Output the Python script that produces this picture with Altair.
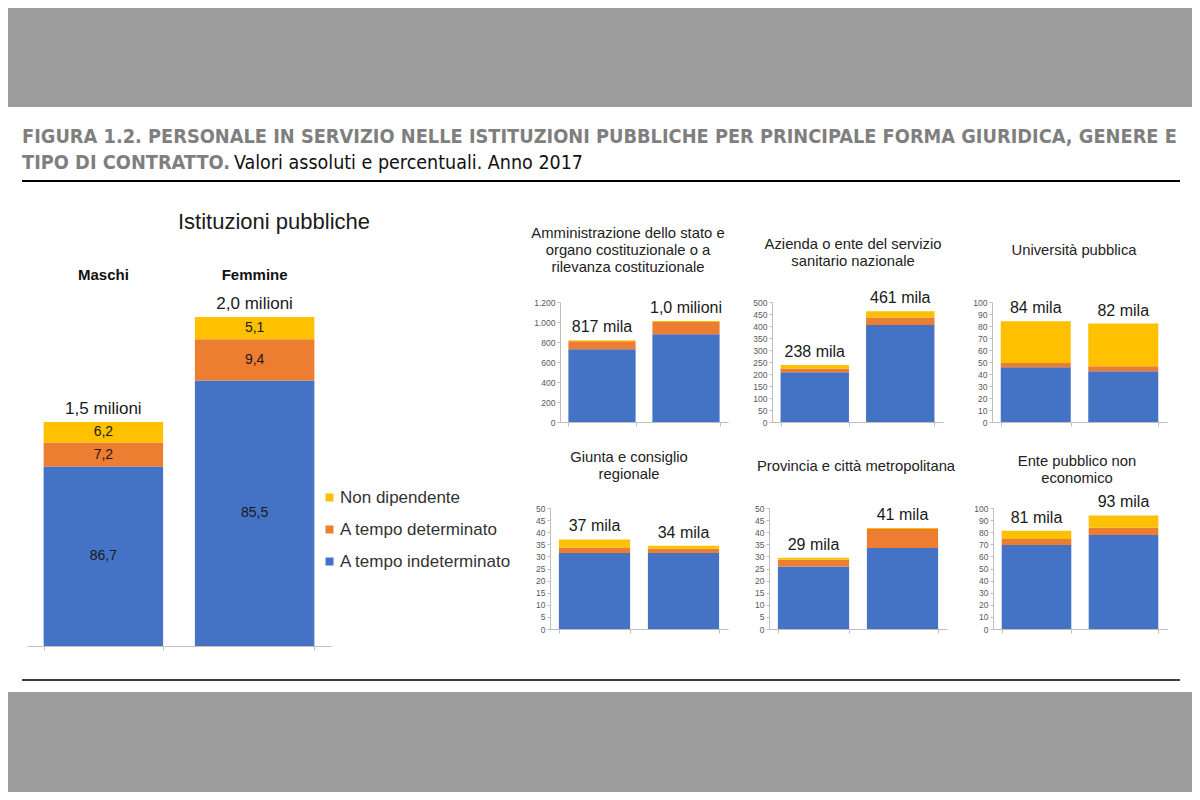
import altair as alt
import pandas as pd

# ---------------- data ----------------
genders = ["Maschi", "Femmine"]
contracts = ["A tempo indeterminato", "A tempo determinato", "Non dipendente"]
legend_order = ["Non dipendente", "A tempo determinato", "A tempo indeterminato"]
legend_colors = ["#FFC000", "#ED7D31", "#4472C4"]

# left panel: Istituzioni pubbliche (percent shares; totals in thousands)
main_pct_maschi = [86.7, 7.2, 6.2]
main_pct_femmine = [85.5, 9.4, 5.1]
main_pct_labels_maschi = ["86,7", "7,2", "6,2"]
main_pct_labels_femmine = ["85,5", "9,4", "5,1"]
main_totals = [1520, 2000]
main_total_labels = ["1,5 milioni", "2,0 milioni"]
main_axis_min = 500
main_axis_max = 2000

# small panels (thousands): [indeterminato, determinato, non dipendente]
panel_titles = [
    ["Amministrazione dello stato e", "organo costituzionale o a", "rilevanza costituzionale"],
    ["Azienda o ente del servizio", "sanitario nazionale"],
    ["Università pubblica"],
    ["Giunta e consiglio", "regionale"],
    ["Provincia e città metropolitana"],
    ["Ente pubblico non", "economico"],
]
panel_maschi = [
    [727, 80, 10],
    [207, 16, 15],
    [45.6, 3.6, 34.8],
    [31.4, 2.3, 3.3],
    [25.8, 2.8, 0.8],
    [69.4, 5.0, 6.9],
]
panel_femmine = [
    [877, 123, 10],
    [404, 31, 26],
    [42.3, 4.1, 35.6],
    [31.4, 1.8, 1.2],
    [33.5, 7.8, 0.4],
    [77.7, 6.0, 10.2],
]
panel_total_labels = [
    ["817 mila", "1,0 milioni"],
    ["238 mila", "461 mila"],
    ["84 mila", "82 mila"],
    ["37 mila", "34 mila"],
    ["29 mila", "41 mila"],
    ["81 mila", "93 mila"],
]
panel_ymax = [1200, 500, 100, 50, 50, 100]
panel_ticks = [
    [0, 200, 400, 600, 800, 1000, 1200],
    [0, 50, 100, 150, 200, 250, 300, 350, 400, 450, 500],
    [0, 10, 20, 30, 40, 50, 60, 70, 80, 90, 100],
    [0, 5, 10, 15, 20, 25, 30, 35, 40, 45, 50],
    [0, 5, 10, 15, 20, 25, 30, 35, 40, 45, 50],
    [0, 10, 20, 30, 40, 50, 60, 70, 80, 90, 100],
]

fig_title_line1 = "FIGURA 1.2. PERSONALE IN SERVIZIO NELLE ISTITUZIONI PUBBLICHE PER PRINCIPALE FORMA GIURIDICA, GENERE E"
fig_title_line2_bold = "TIPO DI CONTRATTO."
fig_title_line2_reg = "Valori assoluti e percentuali. Anno 2017"
main_title = "Istituzioni pubbliche"

# ---------------- layout (pixels inside the chart) ----------------
W, H = 1184, 784
FONT = "Liberation Sans"
NARROW = "Liberation Sans Narrow, DejaVu Sans Condensed, sans-serif"
GRAY = "#9d9d9d"
AXC = "#bfbfbf"
# panel plot boxes: (x0, x1, y_bottom, y_top)
panel_boxes = [
    (552, 720, 414, 294),
    (764, 935, 414, 294),
    (984, 1159, 414, 294),
    (542, 720, 621, 500),
    (761, 939, 621, 500),
    (985, 1159, 621, 500),
]
# centre of first title line
panel_title_pos = [(620, 226), (845, 237), (1066, 243), (621, 450), (848, 459), (1069, 454)]
left_box = (19, 323, 638, 309)

color_scale = alt.Scale(domain=legend_order, range=legend_colors)
LEG = alt.Legend(orient="none", legendX=313, legendY=481, title=None, symbolType="square",
                 symbolSize=64, symbolStrokeWidth=0, labelFontSize=17, labelFont=FONT,
                 labelColor="#333333", rowPadding=14, padding=0, labelOffset=2, labelLimit=400)
one = pd.DataFrame({"a": [0]})


def x_axis(y_bottom):
    return alt.Axis(orient="bottom", offset=y_bottom - H, title=None, labels=False, tickBand="extent",
                    ticks=True, tickSize=4, domainColor=AXC, tickColor=AXC, grid=False)


# ---------------- left panel ----------------
rows = []
for g, tot, pcts, labs in zip(genders, main_totals, [main_pct_maschi, main_pct_femmine],
                              [main_pct_labels_maschi, main_pct_labels_femmine]):
    for k, (c, p, l) in enumerate(zip(contracts, pcts, labs)):
        rows.append(dict(gender=g, contract=c, value=tot * p / 100.0, pct=l, ord=k))
left_df = pd.DataFrame(rows)
left_tot = pd.DataFrame(dict(gender=genders, total=main_totals, label=main_total_labels))

LX = alt.X("gender:N", sort=genders,
           scale=alt.Scale(range=[left_box[0], left_box[1]], paddingInner=0.21, paddingOuter=0.11),
           axis=x_axis(left_box[2]))
LY = alt.Scale(domain=[main_axis_min, main_axis_max], range=[left_box[2], left_box[3]], nice=False, zero=False)

left_base = alt.Chart(left_df).transform_stack(
    stack="value", groupby=["gender"], as_=["y0", "y1"], sort=[alt.SortField("ord", order="ascending")]
).transform_calculate(
    y0c=f"max(datum.y0, {main_axis_min})",
    mid=f"(max(datum.y0, {main_axis_min}) + datum.y1) / 2",
)
left_bars = left_base.mark_bar().encode(
    x=LX, y=alt.Y("y1:Q", scale=LY, axis=None), y2="y0c:Q",
    color=alt.Color("contract:N", scale=color_scale, legend=LEG),
)
left_seg = left_base.mark_text(fontSize=14, font=FONT, color="#1a1a1a").encode(
    x=LX, y=alt.Y("mid:Q", scale=LY, axis=None), text="pct:N")
left_totals = alt.Chart(left_tot).mark_text(fontSize=17, font=FONT, color="#1a1a1a", dy=-13).encode(
    x=LX, y=alt.Y("total:Q", scale=LY, axis=None), text="label:N")
left_gender = alt.Chart(left_tot).mark_text(fontSize=15, font=FONT, fontWeight="bold", color="#111111").encode(
    x=LX, y=alt.value(267), text="gender:N")
left = alt.layer(left_bars, left_seg, left_totals, left_gender)

left_title = alt.Chart(one).mark_text(text=main_title, fontSize=22, font=FONT, color="#1a1a1a").encode(
    x=alt.value(266), y=alt.value(214))


# ---------------- small panels ----------------
def panel(i):
    x0, x1, yb, yt = panel_boxes[i]
    rows = []
    for g, vals in zip(genders, [panel_maschi[i], panel_femmine[i]]):
        for k, (c, v) in enumerate(zip(contracts, vals)):
            rows.append(dict(gender=g, contract=c, value=v, ord=k))
    df = pd.DataFrame(rows)
    tdf = pd.DataFrame(dict(gender=genders, total=[sum(panel_maschi[i]), sum(panel_femmine[i])],
                            label=panel_total_labels[i]))
    x = alt.X("gender:N", sort=genders,
              scale=alt.Scale(range=[x0, x1], paddingInner=0.2, paddingOuter=0.1), axis=x_axis(yb))
    yscale = alt.Scale(domain=[0, panel_ymax[i]], range=[yb, yt], nice=False)
    yaxis = alt.Axis(orient="left", offset=-x0, title=None, values=panel_ticks[i], grid=False,
                     domainColor=AXC, tickColor=AXC, tickSize=3, labelFontSize=8.5, labelFont=FONT,
                     labelColor="#595959", labelPadding=2,
                     labelExpr="replace(format(datum.value, ','), ',', '.')")
    bars = alt.Chart(df).mark_bar().encode(
        x=x,
        y=alt.Y("value:Q", stack="zero", scale=yscale, axis=yaxis),
        color=alt.Color("contract:N", scale=color_scale, legend=LEG),
        order=alt.Order("ord:Q"),
    )
    txt = alt.Chart(tdf).mark_text(fontSize=16, font=FONT, color="#1a1a1a", dy=-13).encode(
        x=x, y=alt.Y("total:Q", scale=yscale, axis=yaxis), text="label:N")
    cx, cy = panel_title_pos[i]
    ttl = alt.Chart(one).mark_text(text=panel_titles[i], fontSize=14.8, font=FONT, color="#222222",
                                   lineHeight=17, baseline="middle", align="center").encode(
        x=alt.value(cx), y=alt.value(cy))
    return alt.layer(bars, txt), ttl


panels = [panel(i) for i in range(6)]

# ---------------- header / bands ----------------
band_top = alt.Chart(one).mark_rect(color=GRAY).encode(
    x=alt.value(0), x2=alt.value(W), y=alt.value(0), y2=alt.value(99))
band_bottom = alt.Chart(one).mark_rect(color=GRAY).encode(
    x=alt.value(0), x2=alt.value(W), y=alt.value(684), y2=alt.value(H))
line1 = alt.Chart(one).mark_text(text=fig_title_line1, align="left", baseline="middle", font=NARROW,
                                 fontWeight="bold", fontSize=19.8, color="#7f7f7f").encode(
    x=alt.value(14), y=alt.value(129))
line2a = alt.Chart(one).mark_text(text=fig_title_line2_bold, align="left", baseline="middle", font=NARROW,
                                  fontWeight="bold", fontSize=19.8, color="#7f7f7f").encode(
    x=alt.value(14), y=alt.value(155))
line2b = alt.Chart(one).mark_text(text=fig_title_line2_reg, align="left", baseline="middle", font=NARROW,
                                  fontSize=19.5, color="#111111").encode(
    x=alt.value(226), y=alt.value(155))
hrule = alt.Chart(one).mark_rule(color="black", strokeWidth=2).encode(
    x=alt.value(14), x2=alt.value(1172), y=alt.value(173))
brule = alt.Chart(one).mark_rule(color="black", strokeWidth=1.5).encode(
    x=alt.value(14), x2=alt.value(1172), y=alt.value(672))

layers = [band_top, band_bottom, line1, line2a, line2b, hrule, brule, left, left_title]
for p, t in panels:
    layers += [p, t]

chart = alt.layer(*layers).resolve_scale(x="independent", y="independent").properties(
    width=W, height=H, padding=0, autosize=alt.AutoSizeParams(type="none")
).configure_view(stroke=None).configure_text(font=FONT)

chart.save("out.html", embed_options={"renderer": "svg", "actions": False})
